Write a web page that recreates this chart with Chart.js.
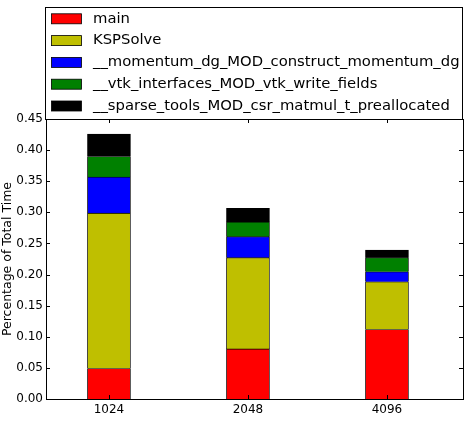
<!DOCTYPE html>
<html>
<head>
<meta charset="utf-8">
<script src="https://cdn.jsdelivr.net/npm/chart.js@4"></script>
<style>
  html, body { margin: 0; padding: 0; background: #fff; }
  #wrap { width: 469px; height: 422px; }
</style>
</head>
<body>
<div id="wrap"><canvas id="chart" width="469" height="422"></canvas></div>
<script>
// problem sizes on the x axis
const categories = ['1024', '2048', '4096'];

// share of total time per routine
const mainTimes = [0.049, 0.0805, 0.1117];
const kspSolveTimes = [0.2496, 0.1466, 0.0767];
const momentumTimes = [0.058, 0.0338, 0.0161];
const vtkTimes = [0.0332, 0.0237, 0.0226];
const sparseTimes = [0.036, 0.022, 0.0124];

const seriesNames = [
    'main',
    'KSPSolve',
    '__momentum_dg_MOD_construct_momentum_dg',
    '__vtk_interfaces_MOD_vtk_write_fields',
    '__sparse_tools_MOD_csr_matmul_t_preallocated'
];
const seriesValues = [mainTimes, kspSolveTimes, momentumTimes, vtkTimes, sparseTimes];
const seriesColors = ['#ff0000', '#bfbf00', '#0000ff', '#008000', '#000000'];

const yTicks = [0, 0.05, 0.10, 0.15, 0.20, 0.25, 0.30, 0.35, 0.40, 0.45];

const FONT = "'DejaVu Sans', sans-serif";

// axes frame + inward tick marks, like matplotlib
const framePlugin = {
    id: 'frame',
    afterDatasetsDraw(chart) {
        const ctx = chart.ctx;
        const area = chart.chartArea;
        const x = chart.scales.x;
        const y = chart.scales.y;
        ctx.save();
        ctx.strokeStyle = '#000';
        ctx.lineWidth = 1;
        ctx.beginPath();
        yTicks.forEach(v => {
            const py = Math.round(y.getPixelForValue(v)) + 0.5;
            ctx.moveTo(area.left, py); ctx.lineTo(area.left + 4, py);
            ctx.moveTo(area.right, py); ctx.lineTo(area.right - 4, py);
        });
        categories.forEach((c, i) => {
            const px = Math.round(x.getPixelForValue(i)) + 0.5;
            ctx.moveTo(px, area.top); ctx.lineTo(px, area.top + 4);
            ctx.moveTo(px, area.bottom); ctx.lineTo(px, area.bottom - 4);
        });
        ctx.stroke();
        ctx.strokeRect(Math.round(area.left) + 0.5, Math.round(area.top) + 0.5,
            Math.round(area.right - area.left), Math.round(area.bottom - area.top));
        ctx.restore();
    }
};

// legend in a box sitting on top of the axes
const boxLegendPlugin = {
    id: 'boxLegend',
    afterDraw(chart) {
        const ctx = chart.ctx;
        ctx.save();
        ctx.fillStyle = '#fff';
        ctx.fillRect(45, 7, 418, 112);
        ctx.strokeStyle = '#000';
        ctx.lineWidth = 1;
        ctx.strokeRect(45.5, 7.5, 417, 112);
        ctx.font = '14.8px ' + FONT;
        ctx.textBaseline = 'middle';
        chart.data.datasets.forEach((ds, i) => {
            const cy = 18.8 + i * 21.8;
            ctx.fillStyle = ds.backgroundColor;
            ctx.fillRect(51.5, cy - 5, 30, 10);
            ctx.strokeStyle = '#000';
            ctx.lineWidth = 0.8;
            ctx.strokeRect(51.5, cy - 5, 30, 10);
            ctx.fillStyle = '#000';
            ctx.fillText(ds.label, 93, cy);
        });
        ctx.restore();
    }
};

const datasets = seriesNames.map((name, i) => ({
    label: name,
    data: seriesValues[i].map((v, j) => ({ x: j, y: v })),
    backgroundColor: seriesColors[i],
    borderColor: '#000',
    borderWidth: 0.8,
    barThickness: 43
}));

new Chart(document.getElementById('chart'), {
    type: 'bar',
    data: { datasets: datasets },
    options: {
        responsive: false,
        devicePixelRatio: 1,
        animation: false,
        layout: { padding: { top: 119, right: 6, left: 0, bottom: 0 } },
        plugins: {
            legend: { display: false },
            tooltip: { enabled: false }
        },
        scales: {
            x: {
                type: 'linear',
                stacked: true,
                offset: false,
                bounds: 'data',
                min: -0.453,
                max: 2.547,
                grid: { display: false, drawTicks: false },
                border: { display: false },
                afterBuildTicks(scale) {
                    scale.ticks = categories.map((c, i) => ({ value: i }));
                },
                afterFit(scale) { scale.height = 23; },
                ticks: {
                    color: '#000',
                    font: { family: FONT, size: 12 },
                    padding: 4,
                    maxRotation: 0,
                    callback: v => categories[v]
                }
            },
            y: {
                stacked: true,
                min: 0,
                max: 0.45,
                grid: { display: false, drawTicks: false },
                border: { display: false },
                afterBuildTicks(scale) {
                    scale.ticks = yTicks.map(v => ({ value: v }));
                },
                afterFit(scale) { scale.width = 46; },
                ticks: {
                    color: '#000',
                    font: { family: FONT, size: 12 },
                    padding: 3,
                    callback: v => v.toFixed(2)
                },
                title: {
                    display: true,
                    text: 'Percentage of Total Time',
                    color: '#000',
                    font: { family: FONT, size: 12.5 },
                    padding: { top: 0, bottom: 0 }
                }
            }
        }
    },
    plugins: [framePlugin, boxLegendPlugin]
});
</script>
</body>
</html>
